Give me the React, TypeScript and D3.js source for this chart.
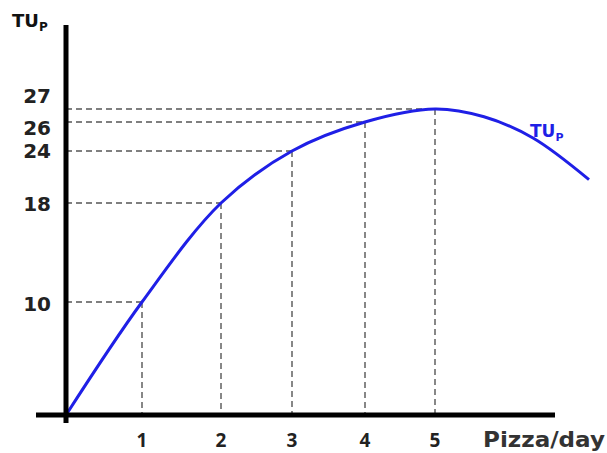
import React from "react";
import * as d3 from "d3";

const quantities = [1, 2, 3, 4, 5];
const tuLevels = [10, 18, 24, 26, 27];
const curveQ = [0, 1, 2, 3, 4, 5, 5.7, 6.4, 7.2];
const curveTU = [0, 10, 18, 24, 26, 27, 26.4, 24.9, 20.7];
const yTickLabels = ["10", "18", "24", "26", "27"];
const xTickLabels = ["1", "2", "3", "4", "5"];

const W = 607;
const H = 453;
// label nudges (layout only) so crowded tick labels do not collide
const yLabelNudge = [2, 1, 0, 6, -13];

export default function App() {
  // hand-drawn axes: non-uniform spacing, matched with piecewise scales
  const x = d3.scaleLinear().domain([0, 1, 2, 3, 4, 5]).range([66, 142, 221, 292, 365, 435]);
  const y = d3.scaleLinear().domain([0, 10, 18, 24, 26, 27]).range([415, 302, 203, 151, 122, 109]);
  const pts: [number, number][] = curveQ.map((q, i) => [q, curveTU[i]]);
  const line = d3
    .line<[number, number]>()
    .x((d) => x(d[0]))
    .y((d) => y(d[1]))
    .curve(d3.curveCatmullRom.alpha(0.5));
  const blue = "#1f1fe6";
  const dash = "#555";
  return (
    <svg
      width={W}
      height={H}
      style={{ position: "fixed", left: 0, top: 0, background: "#fff" }}
    >
      {quantities.map((q, i) => (
        <g key={q}>
          <line
            x1={x(0)}
            x2={x(q)}
            y1={y(tuLevels[i])}
            y2={y(tuLevels[i])}
            stroke={dash}
            strokeWidth={1.4}
            strokeDasharray="6,4"
          />
          <line
            x1={x(q)}
            x2={x(q)}
            y1={y(tuLevels[i])}
            y2={y(0)}
            stroke={dash}
            strokeWidth={1.4}
            strokeDasharray="6,4"
          />
        </g>
      ))}
      <path d={line(pts) || ""} fill="none" stroke={blue} strokeWidth={3} />
      <line x1={66} x2={66} y1={25} y2={423} stroke="#000" strokeWidth={5} />
      <line x1={36} x2={555} y1={y(0)} y2={y(0)} stroke="#000" strokeWidth={5} />
      {tuLevels.map((v, i) => (
        <text
          key={v}
          x={51}
          y={y(v) + yLabelNudge[i]}
          dy="0.36em"
          textAnchor="end"
          fontFamily="DejaVu Sans"
          fontWeight="bold"
          fontSize={20}
          fill="#222"
        >
          {yTickLabels[i]}
        </text>
      ))}
      {quantities.map((q, i) => (
        <text
          key={q}
          x={x(q)}
          y={447}
          textAnchor="middle"
          fontFamily="Open Sans"
          fontWeight="bold"
          fontSize={19}
          fill="#222"
        >
          {xTickLabels[i]}
        </text>
      ))}
      <text
        x={483}
        y={447}
        fontFamily="DejaVu Sans"
        fontWeight="bold"
        fontSize={21}
        fill="#333"
        textLength={122}
        lengthAdjust="spacingAndGlyphs"
      >
        Pizza/day
      </text>
      <text x={12} y={27} fontFamily="DejaVu Sans" fontWeight="bold" fontSize={18} fill="#111">
        TU
        <tspan fontSize={12} dy={4}>P</tspan>
      </text>
      <text x={530} y={137} fontFamily="DejaVu Sans" fontWeight="bold" fontSize={17} fill={blue}>
        TU
        <tspan fontSize={11} dy={4}>P</tspan>
      </text>
    </svg>
  );
}
